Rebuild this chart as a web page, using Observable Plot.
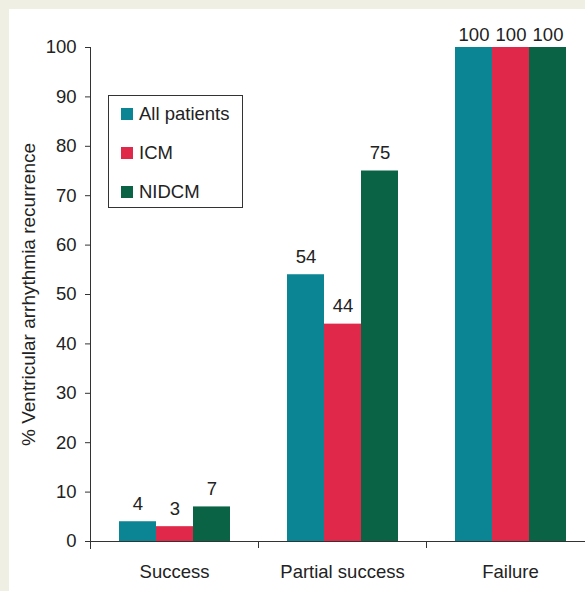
<!DOCTYPE html>
<html><head><meta charset="utf-8">
<script src="https://cdn.jsdelivr.net/npm/d3@7"></script>
<script src="https://cdn.jsdelivr.net/npm/@observablehq/plot@0.6"></script>
<style>
body{margin:0;background:#f0efe4;width:585px;height:591px;overflow:hidden;font-family:"Liberation Sans",Arial,sans-serif;color:#222;}
#panel{position:absolute;left:9px;top:9px;width:576px;height:582px;background:#fff;overflow:hidden;}
#panel svg{display:block;max-width:none !important;}
#legend{position:absolute;left:99px;top:86px;width:133px;height:111px;border:1px solid #333;background:#fff;}
.row{position:absolute;left:12px;height:20px;display:flex;align-items:center;font-size:18.5px;}
.sw{width:12px;height:12px;margin-right:6px;}
</style></head>
<body>
<div id="panel"><div id="chart"></div><div id="legend"></div></div>
<script>
const categories = ["Success", "Partial success", "Failure"];
const series = ["All patients", "ICM", "NIDCM"];
const allPatients = [4, 54, 100];
const icm = [3, 44, 100];
const nidcm = [7, 75, 100];
const yTicks = [0, 10, 20, 30, 40, 50, 60, 70, 80, 90, 100];
const colors = ["#0b8494", "#e0294a", "#0b6346"];
const yLabel = "% Ventricular arrhythmia recurrence";

const seriesValues = [allPatients, icm, nidcm];
const rows = [];
categories.forEach((c, ci) => series.forEach((s, si) => rows.push({category: c, series: s, value: seriesValues[si][ci]})));

const W = 585, H = 582, ML = 81, MR = 0, MT = 38, MB = 50;
const halfBand = (W - ML - MR) / categories.length / 2;
const font = "'Liberation Sans', Arial, sans-serif";

const chart = Plot.plot({
  width: W, height: H, marginLeft: ML, marginRight: MR, marginTop: MT, marginBottom: MB,
  style: {fontFamily: font, fontSize: "18.5px", color: "#333", background: "transparent", overflow: "visible"},
  fx: {domain: categories, padding: 0},
  x: {domain: series, paddingInner: 0, paddingOuter: 0.73, axis: null},
  y: {domain: [0, 100]},
  color: {domain: series, range: colors},
  marks: [
    Plot.barY(rows, {fx: "category", x: "series", y: "value", fill: "series"}),
    Plot.text(rows.filter(d => d.value < 100), {fx: "category", x: "series", y: "value", text: d => String(d.value), dy: -18, fontSize: 18.5, fill: "#222"}),
    Plot.text(rows.filter(d => d.value >= 100), {fx: "category", x: "series", y: "value", text: d => String(d.value), dy: -12, fontSize: 18.5, fill: "#222"}),
    Plot.frame({facet: "super", anchor: "left", insetBottom: -7, stroke: "#333"}),
    Plot.frame({facet: "super", anchor: "bottom", stroke: "#333"}),
    Plot.axisY({ticks: yTicks, tickSize: 5, tickPadding: 9, fontSize: 18.5, fill: "#222", label: null}),
    Plot.axisY({ticks: [], label: yLabel, labelAnchor: "center", labelOffset: 69, labelArrow: "none", fontSize: 19, fill: "#222"}),
    Plot.axisFx({anchor: "bottom", tickSize: 0, tickPadding: 23, fontSize: 18.5, fill: "#222", label: null}),
    Plot.axisFx({anchor: "bottom", tickSize: 7, dx: -halfBand, tickFormat: () => "", label: null})
  ]
});
document.getElementById("chart").appendChild(chart);

const legend = document.getElementById("legend");
const rowCenters = [18, 57, 96];
series.forEach((s, i) => {
  const r = document.createElement("div");
  r.className = "row";
  r.style.top = (rowCenters[i] - 10) + "px";
  const sw = document.createElement("div");
  sw.className = "sw";
  sw.style.background = colors[i];
  r.appendChild(sw);
  r.appendChild(document.createTextNode(s));
  legend.appendChild(r);
});
</script>
</body></html>
